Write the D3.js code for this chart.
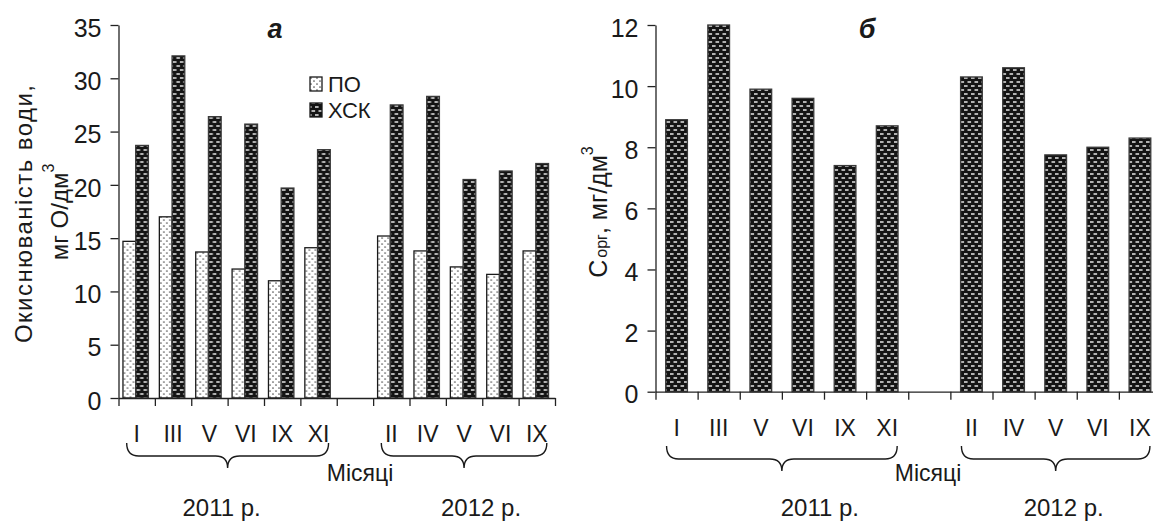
<!DOCTYPE html>
<html>
<head>
<meta charset="utf-8">
<script src="https://cdn.jsdelivr.net/npm/d3@7/dist/d3.min.js"></script>
<style>
  html, body { margin: 0; padding: 0; background: #fff; }
  svg { display: block; }
  text { font-family: 'Liberation Sans', Arial, sans-serif; fill: #1a1a1a; }
</style>
</head>
<body>
<svg id="chart" width="1153" height="523"></svg>
<script>
// Months of sampling, grouped by year
const months2011 = ["I", "III", "V", "VI", "IX", "XI"];
const months2012 = ["II", "IV", "V", "VI", "IX"];
const yearLabels = ["2011 р.", "2012 р."];
const seriesNames = ["ПО", "ХСК"];

// Panel а: oxidisability of water, mg O/dm3
const po2011  = [14.7, 17.0, 13.7, 12.1, 11.0, 14.1];
const po2012  = [15.2, 13.8, 12.3, 11.6, 13.8];
const xsk2011 = [23.7, 32.1, 26.4, 25.7, 19.7, 23.3];
const xsk2012 = [27.5, 28.3, 20.5, 21.3, 22.0];

// Panel б: organic carbon, mg/dm3
const corg2011 = [8.9, 12.0, 9.9, 9.6, 7.4, 8.7];
const corg2012 = [10.3, 10.6, 7.75, 8.0, 8.3];

// Tick values
const ticksA = [0, 5, 10, 15, 20, 25, 30, 35];
const ticksB = [0, 2, 4, 6, 8, 10, 12];

const svg = d3.select("#chart");

// Fill patterns
const defs = svg.append("defs");
const dots = defs.append("pattern").attr("id", "patDots")
  .attr("patternUnits", "userSpaceOnUse").attr("width", 6).attr("height", 6);
dots.append("rect").attr("width", 6).attr("height", 6).attr("fill", "#fff");
dots.append("circle").attr("cx", 1).attr("cy", 1).attr("r", 0.85).attr("fill", "#555");
dots.append("circle").attr("cx", 4).attr("cy", 4).attr("r", 0.85).attr("fill", "#555");

const brick = defs.append("pattern").attr("id", "patBrick")
  .attr("patternUnits", "userSpaceOnUse").attr("width", 7).attr("height", 8);
brick.append("rect").attr("width", 7).attr("height", 8).attr("fill", "#141414");
brick.append("rect").attr("x", 1.5).attr("y", 1.2).attr("width", 3.6).attr("height", 1.6).attr("fill", "#d8d8d8");
brick.append("rect").attr("x", -2).attr("y", 5.2).attr("width", 3.6).attr("height", 1.6).attr("fill", "#d8d8d8");
brick.append("rect").attr("x", 5).attr("y", 5.2).attr("width", 3.6).attr("height", 1.6).attr("fill", "#d8d8d8");

// Build the category list: 2011 months, an empty slot, 2012 months
const keys = [
  ...months2011.map(m => "2011|" + m),
  "gap",
  ...months2012.map(m => "2012|" + m)
];
const monthOf = k => k === "gap" ? "" : k.split("|")[1];

const rowsA = [
  ...months2011.map((m, i) => ({ key: "2011|" + m, "ПО": po2011[i], "ХСК": xsk2011[i] })),
  ...months2012.map((m, i) => ({ key: "2012|" + m, "ПО": po2012[i], "ХСК": xsk2012[i] }))
];
const rowsB = [
  ...months2011.map((m, i) => ({ key: "2011|" + m, v: corg2011[i] })),
  ...months2012.map((m, i) => ({ key: "2012|" + m, v: corg2012[i] }))
];

const AXIS = "#222";

function curlyBrace(x0, x1, y) {
  const h1 = 13, h2 = 12, r = 12, mid = (x0 + x1) / 2;
  const p = d3.path();
  p.moveTo(x0, y);
  p.quadraticCurveTo(x0, y + h1, x0 + r, y + h1);
  p.lineTo(mid - r, y + h1);
  p.quadraticCurveTo(mid, y + h1, mid, y + h1 + h2);
  p.quadraticCurveTo(mid, y + h1, mid + r, y + h1);
  p.lineTo(x1 - r, y + h1);
  p.quadraticCurveTo(x1, y + h1, x1, y);
  return p.toString();
}

// Common frame: y axis, category ticks, month labels, braces, captions
function drawFrame(g, cfg) {
  const { x, y, tickVals, left, right, bottom } = cfg;

  // y axis
  const ya = g.append("g").attr("transform", `translate(${left},0)`)
    .call(d3.axisLeft(y).tickValues(tickVals).tickSize(8).tickSizeOuter(0).tickPadding(9));
  ya.selectAll("path, line").attr("stroke", AXIS).attr("stroke-width", 1.3);
  ya.selectAll("text").attr("font-size", 25).attr("dy", "0.45em").attr("fill", "#1a1a1a");

  // category boundary ticks on the x axis
  const idx = d3.scaleLinear().domain([0, keys.length]).range([left, right]);
  const xa = g.append("g").attr("transform", `translate(0,${bottom})`)
    .call(d3.axisBottom(idx).tickValues(d3.range(keys.length + 1)).tickSize(8)
      .tickSizeOuter(0).tickFormat(""));
  xa.selectAll("path, line").attr("stroke", AXIS).attr("stroke-width", 1.3);

  // month labels
  const ml = g.append("g").attr("transform", `translate(0,${bottom})`)
    .call(d3.axisBottom(x).tickSize(0).tickPadding(28).tickFormat(monthOf));
  ml.select(".domain").remove();
  ml.selectAll("text").attr("font-size", 23).attr("fill", "#1a1a1a");

  // year braces
  const groups = [months2011.map(m => "2011|" + m), months2012.map(m => "2012|" + m)];
  const braceY = cfg.braceTop;
  groups.forEach((grp, gi) => {
    const x0 = x(grp[0]) + x.bandwidth() / 2 - 10;
    const x1 = x(grp[grp.length - 1]) + x.bandwidth() / 2 + 10;
    g.append("path").attr("d", curlyBrace(x0, x1, braceY))
      .attr("fill", "none").attr("stroke", "#1a1a1a").attr("stroke-width", 1.4);
    g.append("text").attr("x", (x0 + x1) / 2 + cfg.yearShift[gi]).attr("y", 516)
      .attr("text-anchor", "middle").attr("font-size", 24).text(yearLabels[gi]);
  });

  g.append("text").attr("x", cfg.monthsX).attr("y", 481)
    .attr("text-anchor", "middle").attr("font-size", 23).text("Місяці");
}

// ---------- Panel а ----------
{
  const left = 118.5, right = 555, top = 25, bottom = 398;
  const g = svg.append("g");
  const x = d3.scaleBand().domain(keys).range([left, right]);
  const y = d3.scaleLinear().domain([0, 35]).range([bottom, top]);
  const x1 = d3.scaleBand().domain(seriesNames).range([0, x.bandwidth()]).paddingOuter(0.43);

  const bars = g.append("g").selectAll("g").data(rowsA).join("g")
    .attr("transform", d => `translate(${x(d.key) - 1},0)`);
  bars.selectAll("rect").data(d => seriesNames.map(s => ({ s, v: d[s] }))).join("rect")
    .attr("x", d => x1(d.s))
    .attr("y", d => y(d.v))
    .attr("width", x1.bandwidth())
    .attr("height", d => y(0) - y(d.v))
    .attr("fill", d => d.s === "ПО" ? "url(#patDots)" : "url(#patBrick)")
    .attr("stroke", d => d.s === "ПО" ? "#1a1a1a" : "#3a3a3a")
    .attr("stroke-width", 1.3);

  drawFrame(g, { x, y, tickVals: ticksA, left, right, bottom, braceTop: 443,
    yearShift: [-6, 17], monthsX: 360 });

  // legend
  const lg = g.append("g").attr("transform", "translate(310,77)");
  seriesNames.forEach((s, i) => {
    lg.append("rect").attr("x", 0).attr("y", i * 26).attr("width", 12).attr("height", 14)
      .attr("fill", s === "ПО" ? "url(#patDots)" : "url(#patBrick)")
      .attr("stroke", "#1a1a1a").attr("stroke-width", 1.3);
    lg.append("text").attr("x", 18).attr("y", i * 26 + 14.5).attr("font-size", 22).text(s);
  });

  // panel letter
  g.append("text").attr("x", 275).attr("y", 38).attr("text-anchor", "middle")
    .attr("font-size", 27).attr("font-weight", "bold").attr("font-style", "italic").text("а");

  // y-axis title
  const t = g.append("g").attr("transform", "rotate(-90)");
  t.append("text").attr("x", -214).attr("y", 32).attr("text-anchor", "middle")
    .attr("font-size", 24).attr("textLength", 258).attr("lengthAdjust", "spacing")
    .text("Окиснюваність води,");
  const t2 = t.append("text").attr("x", -212).attr("y", 68).attr("text-anchor", "middle")
    .attr("font-size", 24);
  t2.append("tspan").text("мг О/дм");
  t2.append("tspan").attr("font-size", 16).attr("dy", "-0.9em").text("3");
}

// ---------- Panel б ----------
{
  const left = 655.5, right = 1161, top = 25, bottom = 391.7;
  const g = svg.append("g");
  const x = d3.scaleBand().domain(keys).range([left, right]);
  const y = d3.scaleLinear().domain([0, 12]).range([bottom, top]);
  const w = x.bandwidth() * 0.515;

  g.append("g").selectAll("rect").data(rowsB).join("rect")
    .attr("x", d => x(d.key) + (x.bandwidth() - w) / 2)
    .attr("y", d => y(d.v))
    .attr("width", w)
    .attr("height", d => y(0) - y(d.v))
    .attr("fill", "url(#patBrick)")
    .attr("stroke", "#3a3a3a").attr("stroke-width", 1.3);

  drawFrame(g, { x, y, tickVals: ticksB, left, right, bottom, braceTop: 446,
    yearShift: [38, 8], monthsX: 928 });

  g.append("text").attr("x", 867).attr("y", 38).attr("text-anchor", "middle")
    .attr("font-size", 27).attr("font-weight", "bold").attr("font-style", "italic").text("б");

  const t = g.append("g").attr("transform", "rotate(-90)")
    .append("text").attr("x", -212).attr("y", 607).attr("text-anchor", "middle")
    .attr("font-size", 25);
  t.append("tspan").text("С");
  t.append("tspan").attr("font-size", 16).attr("dx", "2").text("орг");
  t.append("tspan").text(", мг/дм");
  t.append("tspan").attr("font-size", 16).attr("dy", "-0.9em").text("3");
}
</script>
</body>
</html>
